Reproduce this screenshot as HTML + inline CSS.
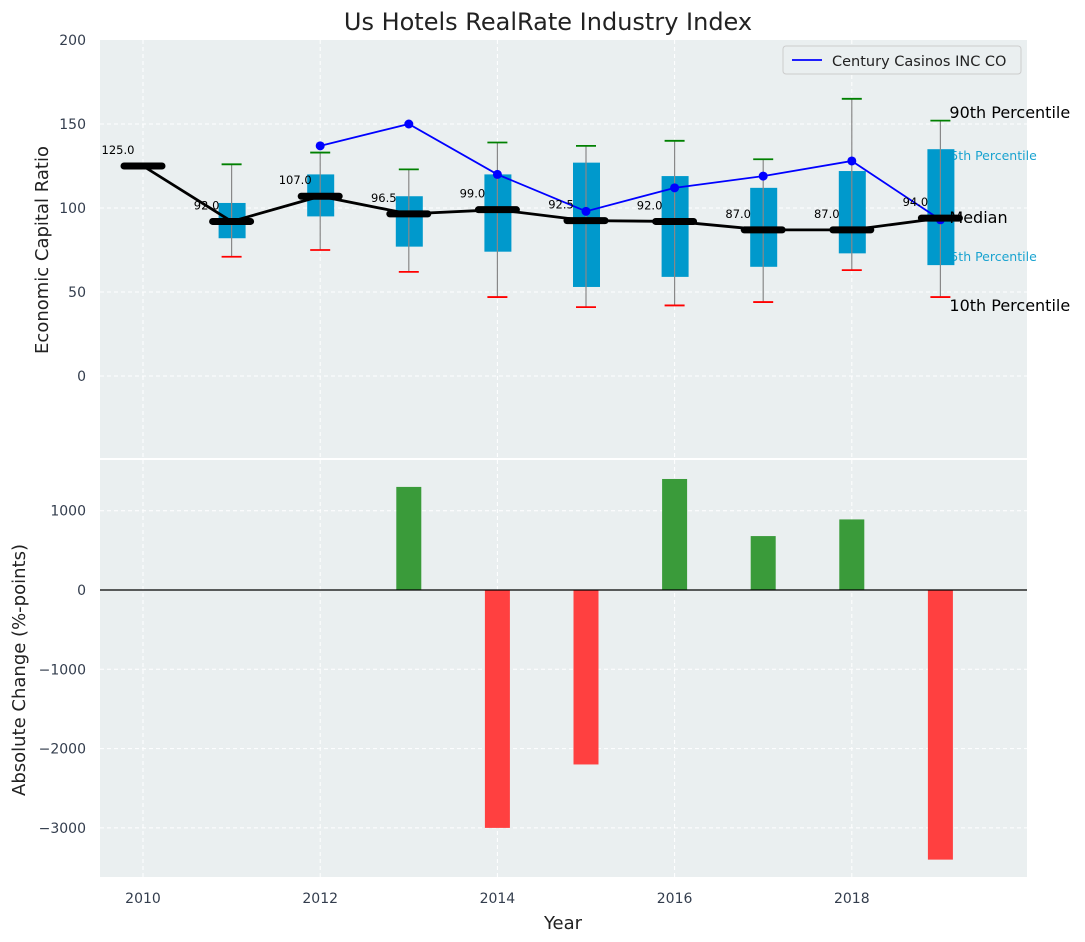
<!DOCTYPE html>
<html><head><meta charset="utf-8"><style>
body{margin:0;background:#fff;}
svg{font-family:"DejaVu Sans","Liberation Sans",sans-serif;display:block}
</style></head><body>
<svg id="c" width="1085" height="942" xmlns="http://www.w3.org/2000/svg"></svg>
<script>
const years=[2010,2011,2012,2013,2014,2015,2016,2017,2018,2019];
const medians=[125,92,107,96.5,99,92.5,92,87,87,94];
const q1=[null,82,95,77,74,53,59,65,73,66];
const q3=[null,103,120,107,120,127,119,112,122,135];
const p10=[null,71,75,62,47,41,42,44,63,47];
const p90=[null,126,133,123,139,137,140,129,165,152];
const compYears=[2012,2013,2014,2015,2016,2017,2018,2019];
const compValues=[137,150,120,98,112,119,128,93];
const changeYears=[2013,2014,2015,2016,2017,2018,2019];
const changeValues=[1300,-3000,-2200,1400,680,890,-3400];
const topTicks=[0,50,100,150,200];
const botTicks=[-3000,-2000,-1000,0,1000];
const xTicks=[2010,2012,2014,2016,2018];

const svg=document.getElementById('c');
const NS='http://www.w3.org/2000/svg';
function el(tag,attrs,parent){const e=document.createElementNS(NS,tag);for(const k in attrs)e.setAttribute(k,attrs[k]);(parent||svg).appendChild(e);return e;}
function txt(s,attrs,parent){const e=el('text',attrs,parent);e.textContent=s;return e;}

const L=100,R=1027,T1=40,B1=458,T2=460,B2=877;
const X=v=>143+(v-2010)*88.6;
const Y1=v=>376-v*1.68;
const Y2=v=>590-v*0.0793;

let e=el('rect',{x:L,y:T1,width:R-L,height:B1-T1,fill:'#eaeff0'});

e=el('rect',{x:L,y:T2,width:R-L,height:B2-T2,fill:'#eaeff0'});


xTicks.forEach(t=>{
  el('line',{x1:X(t),x2:X(t),y1:T1,y2:B1,stroke:'#fff','stroke-dasharray':'4,3'});
  el('line',{x1:X(t),x2:X(t),y1:T2,y2:B2,stroke:'#fff','stroke-dasharray':'4,3'});
  const t1=txt(t,{x:X(t),y:903,'text-anchor':'middle','font-size':14,fill:'#333d4d'});
  
});
topTicks.forEach(t=>{
  if(t<200)el('line',{x1:L,x2:R,y1:Y1(t),y2:Y1(t),stroke:'#fff','stroke-dasharray':'4,3'});
  const t1=txt(t,{x:86,y:Y1(t)+5,'text-anchor':'end','font-size':14,fill:'#333d4d'});
  
});
botTicks.forEach(t=>{
  el('line',{x1:L,x2:R,y1:Y2(t),y2:Y2(t),stroke:'#fff','stroke-dasharray':'4,3'});
  const s=(t<0?'\u2212'+Math.abs(t):String(t));
  const t1=txt(s,{x:86,y:Y2(t)+5,'text-anchor':'end','font-size':14,fill:'#333d4d'});
  
});

const lx=X(2019);
let c1=txt('75th Percentile',{x:lx+2,y:Y1(q3[9])+11,'font-size':12.5,fill:'#1aa3d0'});

c1=txt('25th Percentile',{x:lx+2,y:Y1(q1[9])-4,'font-size':12.5,fill:'#1aa3d0'});


years.forEach((yr,i)=>{
  if(q1[i]==null)return;
  const x=X(yr);
  const b=el('rect',{x:x-13,y:Y1(q3[i]),width:27,height:Y1(q1[i])-Y1(q3[i]),fill:'#0099cc'});
  
  el('line',{x1:x,x2:x,y1:Y1(p10[i]),y2:Y1(p90[i]),stroke:'#888','stroke-width':1.2});
  el('line',{x1:x-10,x2:x+10,y1:Y1(p90[i]),y2:Y1(p90[i]),stroke:'green','stroke-width':1.8});
  el('line',{x1:x-10,x2:x+10,y1:Y1(p10[i]),y2:Y1(p10[i]),stroke:'red','stroke-width':1.8});
});

let d=compYears.map((y,i)=>(i?'L':'M')+X(y)+','+Y1(compValues[i])).join('');
e=el('path',{d:d,fill:'none',stroke:'blue','stroke-width':1.8});

compYears.forEach((y,i)=>{el('circle',{cx:X(y),cy:Y1(compValues[i]),r:4.5,fill:'blue'});});

d=years.map((y,i)=>(i?'L':'M')+X(y)+','+Y1(medians[i])).join('');
e=el('path',{d:d,fill:'none',stroke:'#000','stroke-width':2.8});

years.forEach((y,i)=>{
  const x=X(y),yy=Y1(medians[i]);
  el('line',{x1:x-19,x2:x+19,y1:yy,y2:yy,stroke:'#000','stroke-width':7,'stroke-linecap':'round'});
  const t=txt(medians[i].toFixed(1),{x:x-25,y:yy-12,'text-anchor':'middle','font-size':11.5,fill:'#000'});
  
});

[['90th Percentile',118],['Median',223],['10th Percentile',311]].forEach(a=>{
  const t=txt(a[0],{x:lx+9,y:a[1],'font-size':16,fill:'#000'});
  
});

const lg=el('g',{});

el('rect',{x:783,y:46,width:238,height:28,rx:3,fill:'#eaeff0',stroke:'#ccc'},lg);
el('line',{x1:792,x2:822,y1:60,y2:60,stroke:'blue','stroke-width':1.8},lg);
txt('Century Casinos INC CO',{x:832,y:66,'font-size':14.5,fill:'#222'},lg);

changeYears.forEach((y,i)=>{
  const v=changeValues[i];
  const b=el('rect',{x:X(y)-12.5,y:Math.min(Y2(v),Y2(0)),width:25,height:Math.abs(Y2(v)-Y2(0)),fill:v>=0?'#3a9b3a':'#ff4040'});
  
});
el('line',{x1:L,x2:R,y1:Y2(0),y2:Y2(0),stroke:'#000','stroke-width':1.2});

let t=txt('Us Hotels RealRate Industry Index',{x:548,y:30,'text-anchor':'middle','font-size':24,fill:'#222'});

t=txt('Economic Capital Ratio',{x:48,y:250,'text-anchor':'middle','font-size':18,fill:'#222',transform:'rotate(-90 48 250)'});

t=txt('Absolute Change (%-points)',{x:25,y:670,'text-anchor':'middle','font-size':18,fill:'#222',transform:'rotate(-90 25 670)'});

t=txt('Year',{x:563,y:929,'text-anchor':'middle','font-size':18,fill:'#222'});

</script>
</body></html>
